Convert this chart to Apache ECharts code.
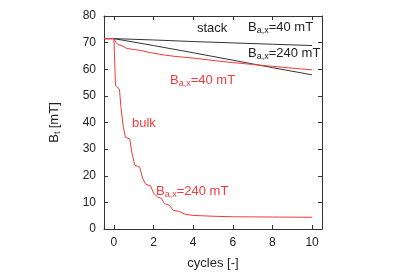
<!DOCTYPE html>
<html><head><meta charset="utf-8">
<script src="https://cdn.jsdelivr.net/npm/echarts@6/dist/echarts.min.js"></script>
<style>html,body{margin:0;padding:0;background:#fff}#c{width:393px;height:275px}</style>
</head><body><div id="c"></div>
<script>
const xTicks = [0, 2, 4, 6, 8, 10];
const yTicks = [0, 10, 20, 30, 40, 50, 60, 70, 80];
const stack40 = [[-0.5,71.5],[0,71.5],[2,71.0],[4,70.4],[6,69.9],[8,69.4],[10,68.9]];
const stack240 = [[-0.5,71.5],[0,71.5],[2,68.9],[4,66.2],[6,63.4],[8,60.6],[10,57.9]];
const bulk40 = [[-0.5,71.5],[0,71.5],[0.1,70.1],[0.2,69.3],[0.45,68.7],[0.65,67.8],[1.05,67.4],[1.4,67.0],[1.8,66.3],[2.5,65.4],[3,64.9],[4,64.2],[5,63.3],[6,62.5],[7,61.8],[8,61.1],[9,60.4],[10,59.8]];
const bulk240 = [[-0.5,71.5],[0,71.5],[0.03,65],[0.08,54],[0.15,53.5],[0.28,52.5],[0.35,46],[0.47,38.5],[0.58,34.5],[0.8,33.8],[0.9,29],[1.05,24],[1.3,23.2],[1.45,19],[1.6,16.8],[1.85,16.2],[2.0,13.5],[2.2,12],[2.4,11.5],[2.55,9.5],[2.8,8.9],[3.0,7],[3.3,6.6],[3.6,5.5],[4,5.1],[5,4.8],[6,4.6],[8,4.5],[10,4.4]];

const RED = '#f03a3a';
const font = 'Liberation Sans, Arial, sans-serif';
const chart = echarts.init(document.getElementById('c'), null, {renderer:'canvas'});
const axLine = {show:true, onZero:false, lineStyle:{color:'#333', width:1}};
const tick = {show:true, inside:true, length:4, lineStyle:{color:'#333'}};
function xAx(show, pos){
  return {type:'value', position:pos, min:-0.5, max:10.5,
    axisLine:axLine, axisTick:Object.assign({customValues:xTicks}, tick),
    axisLabel:{show:show, customValues:xTicks, color:'#222', fontSize:12, fontFamily:font, margin:8},
    splitLine:{show:false},
    name: show ? 'cycles [-]' : '', nameLocation:'middle', nameGap:28,
    nameTextStyle:{color:'#222', fontSize:13, fontFamily:font}};
}
function yAx(show, pos){
  return {type:'value', position:pos, min:0, max:80, interval:10,
    axisLine:axLine, axisTick:Object.assign({customValues:yTicks}, tick),
    axisLabel:{show:show, color:'#222', fontSize:12, fontFamily:font, margin:8},
    splitLine:{show:false},
    name: show ? '{b|B}{s|t} {b|[mT]}' : '', nameLocation:'middle', nameGap:42, nameRotate:90,
    nameTextStyle:{rich:{b:{color:'#222', fontSize:13, fontFamily:font}, s:{color:'#222', fontSize:9, fontFamily:font, padding:[7,0,0,0]}}}};
}
function line(data, color){
  return {type:'line', data:data, showSymbol:false, symbol:'none', lineStyle:{color:color, width:1}, silent:true, animation:false};
}
const rich = (c)=>({b:{fill:c, fontSize:13, fontFamily:font}, s:{fill:c, fontSize:9, fontFamily:font, padding:[7,0,0,0]}});
function txt(left, top, str, c){
  return {type:'text', left:left, top:top, style:{text:str, rich:rich(c), fill:c, fontSize:13, fontFamily:font}};
}
chart.setOption({
  animation:false,
  grid:{left:104, right:71, top:16, bottom:43},
  xAxis:[xAx(true,'bottom'), xAx(false,'top')],
  yAxis:[yAx(true,'left'), yAx(false,'right')],
  series:[line(stack40,'#333'), line(stack240,'#333'), line(bulk40,RED), line(bulk240,RED)],
  graphic:[
    {type:'text', left:197, top:22, style:{text:'stack', fill:'#222', fontSize:13, fontFamily:font}},
    txt(248, 21, '{b|B}{s|a,x}{b|=40 mT}', '#222'),
    txt(248, 47, '{b|B}{s|a,x}{b|=240 mT}', '#222'),
    txt(170, 74, '{b|B}{s|a,x}{b|=40 mT}', RED),
    {type:'text', left:132, top:117, style:{text:'bulk', fill:RED, fontSize:13, fontFamily:font}},
    txt(156, 185, '{b|B}{s|a,x}{b|=240 mT}', RED)
  ]
});
</script></body></html>
